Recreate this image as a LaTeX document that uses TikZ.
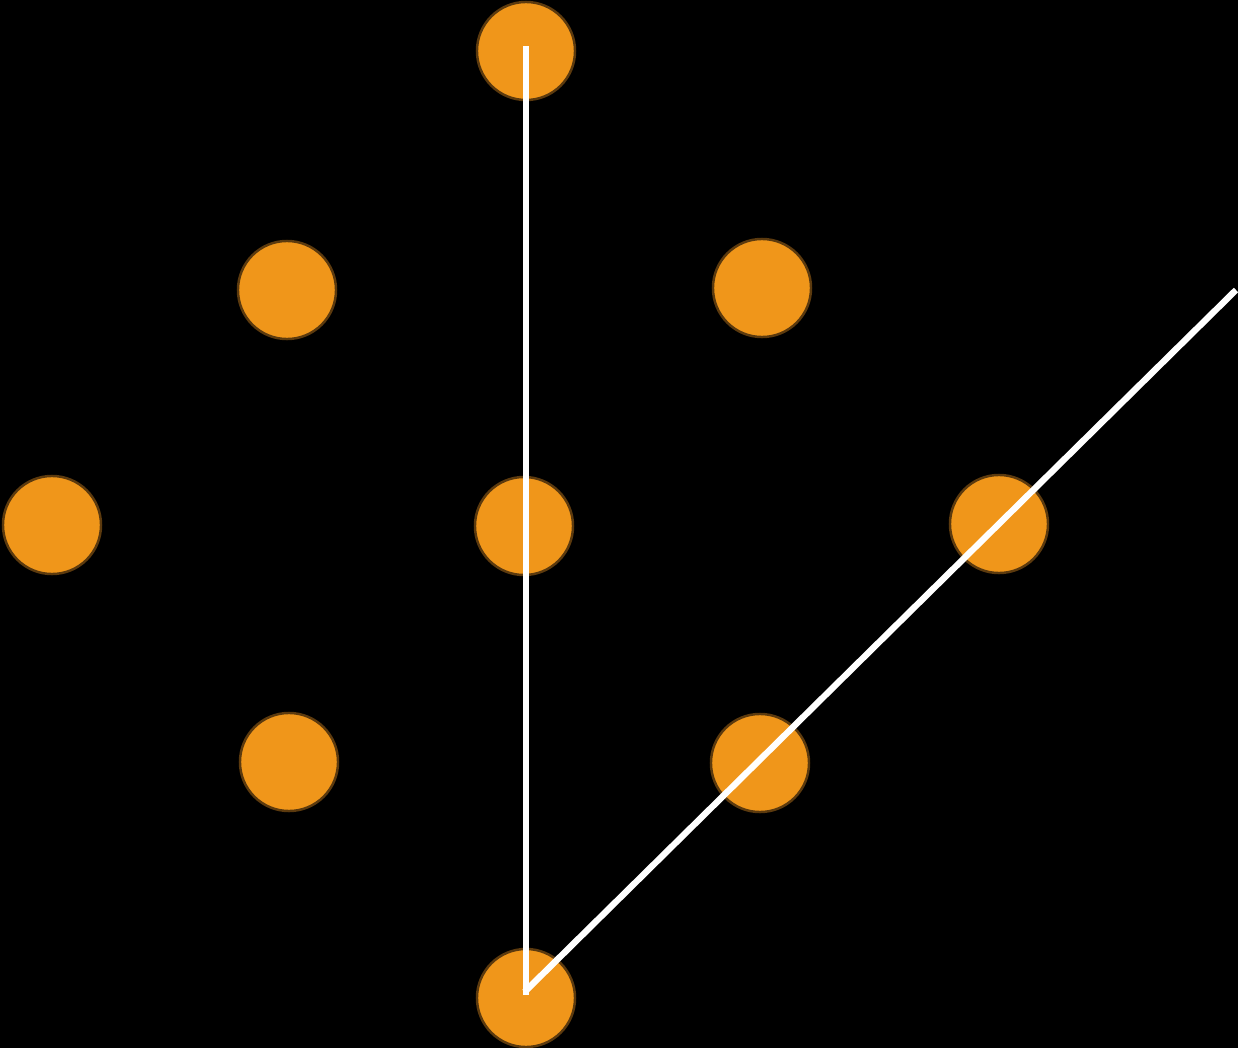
\documentclass[tikz,border=0pt]{standalone}
\usetikzlibrary{positioning}
\definecolor{dotorange}{HTML}{F0961A}
\definecolor{dotrim}{HTML}{5C3A0E}
\begin{document}
\begin{tikzpicture}[x=0.01cm,y=-0.01cm,
	mydot/.style={circle,fill=dotorange,draw=dotrim,line width=0.7pt,minimum size=0.98cm,inner sep=0pt},
	stroke/.style={white,line width=1.8pt}]
	
	\fill[black] (0,0) rectangle (1238,1048);
	\useasboundingbox (0,0) rectangle (1238,1048);
	
	\node[mydot] (top)    at (526,51)  {};
	\node[mydot] (upleft) at (287,290) {};
	\node[mydot] (upright) at (762,288) {};
	\node[mydot] (left)   at (52,525)  {};
	\node[mydot] (mid)    at (524,526) {};
	\node[mydot] (right)  at (999,524) {};
	\node[mydot] (lowleft) at (289,762) {};
	\node[mydot] (lowright) at (760,763) {};
	\node[mydot] (bottom) at (526,998) {};
	
	\coordinate (tip) at (1236,290);
	\coordinate (corner) at ([xshift=-0.015cm,yshift=0.06cm]bottom.center);
	
	\draw[stroke] ([yshift=0.05cm]top.center) -- ([yshift=0.03cm]bottom.center);
	\draw[stroke] (corner) -- (tip);
\end{tikzpicture}
\end{document}
